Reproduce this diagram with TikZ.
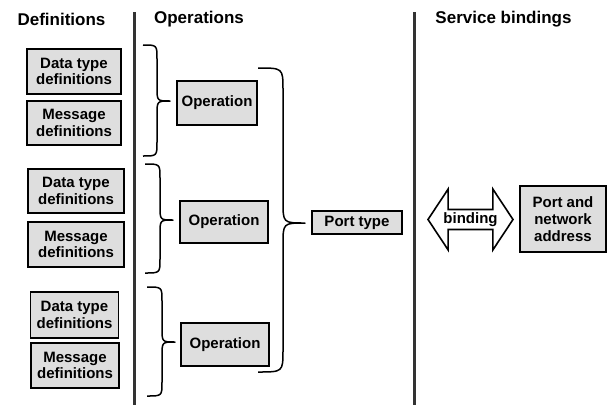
\documentclass[tikz,border=0pt]{standalone}
\usepackage{fontspec}
\setmainfont{Liberation Sans}
\usetikzlibrary{shapes.arrows}

% curly brace opening to the right: left x, top y, bottom y, spine x, tip x, tip y, curl radius
\newcommand{\groupbrace}[7]{%
  \draw[bracestyle] (#1,#2) .. controls (#4,#2) .. (#4,#2+#7)
    -- (#4,#6-#7) .. controls (#4,#6) .. (#5,#6)
    .. controls (#4,#6) .. (#4,#6+#7)
    -- (#4,#3-#7) .. controls (#4,#3) .. (#1,#3);}

\begin{document}
\begin{tikzpicture}[x=1pt,y=-1pt,
  heading/.style={font=\fontsize{17}{19}\selectfont\bfseries, inner sep=0pt},
  graybox/.style={draw=black, line width=1.7pt, fill=black!13, align=center,
    inner sep=0pt, font=\fontsize{15}{16.8}\selectfont\bfseries},
  divider/.style={line width=3pt, black!80},
  bracestyle/.style={line width=1.5pt, line join=round}]
\useasboundingbox (0,0) rectangle (608,405);

% column headings
\node[heading] (hdef) at (61.5,19) {Definitions};
\node[heading] (hops) at (199,19) {Operations};
\node[heading] (hsvc) at (503.5,19) {Service bindings};

% column dividers
\coordinate (l1top) at (134,12);
\coordinate (l1bot) at (134,405);
\coordinate (l2top) at (414,12);
\coordinate (l2bot) at (414,405);
\draw[divider] (l1top) -- (l1bot);
\draw[divider] (l2top) -- (l2bot);

% definitions
\node[graybox, minimum width=94pt, minimum height=45pt] (d1) at (74,71.5) {Data type\\definitions};
\node[graybox, minimum width=94pt, minimum height=44pt] (m1) at (74,123) {Message\\definitions};
\node[graybox, minimum width=96pt, minimum height=44pt] (d2) at (76,191) {Data type\\definitions};
\node[graybox, minimum width=96pt, minimum height=45pt] (m2) at (76,244.5) {Message\\definitions};
\node[graybox, minimum width=88pt, minimum height=46pt] (d3) at (74.5,315) {Data type\\definitions};
\node[graybox, minimum width=88pt, minimum height=45pt] (m3) at (75,365.5) {Message\\definitions};

% operations
\node[graybox, minimum width=80pt, minimum height=44pt] (o1) at (217,103) {Operation};
\node[graybox, minimum width=88pt, minimum height=42pt] (o2) at (224,222) {Operation};
\node[graybox, minimum width=88pt, minimum height=43pt] (o3) at (225,344.5) {Operation};

% braces grouping definitions into operations
\groupbrace{143}{45}{156}{157}{170}{101}{14}
\groupbrace{145}{164}{273}{160}{173}{220}{14}
\groupbrace{147}{287}{396}{162}{175}{342}{14}

% brace grouping operations into the port type
\groupbrace{258}{68}{372}{283}{305}{223}{22}

\node[graybox, minimum width=90pt, minimum height=23pt] (pt) at (357,222.5) {Port type};

% binding
\node[draw=black, line width=1.6pt, fill=white, double arrow, double arrow tip angle=113,
  double arrow head extend=16pt, minimum height=85pt, minimum width=61pt, inner sep=0pt,
  font=\fontsize{15}{17}\selectfont\bfseries] (bind) at (470.5,219.5) {binding};

\node[graybox, minimum width=86pt, minimum height=66pt] (addr) at (563,219) {Port and\\network\\address};
\end{tikzpicture}
\end{document}
